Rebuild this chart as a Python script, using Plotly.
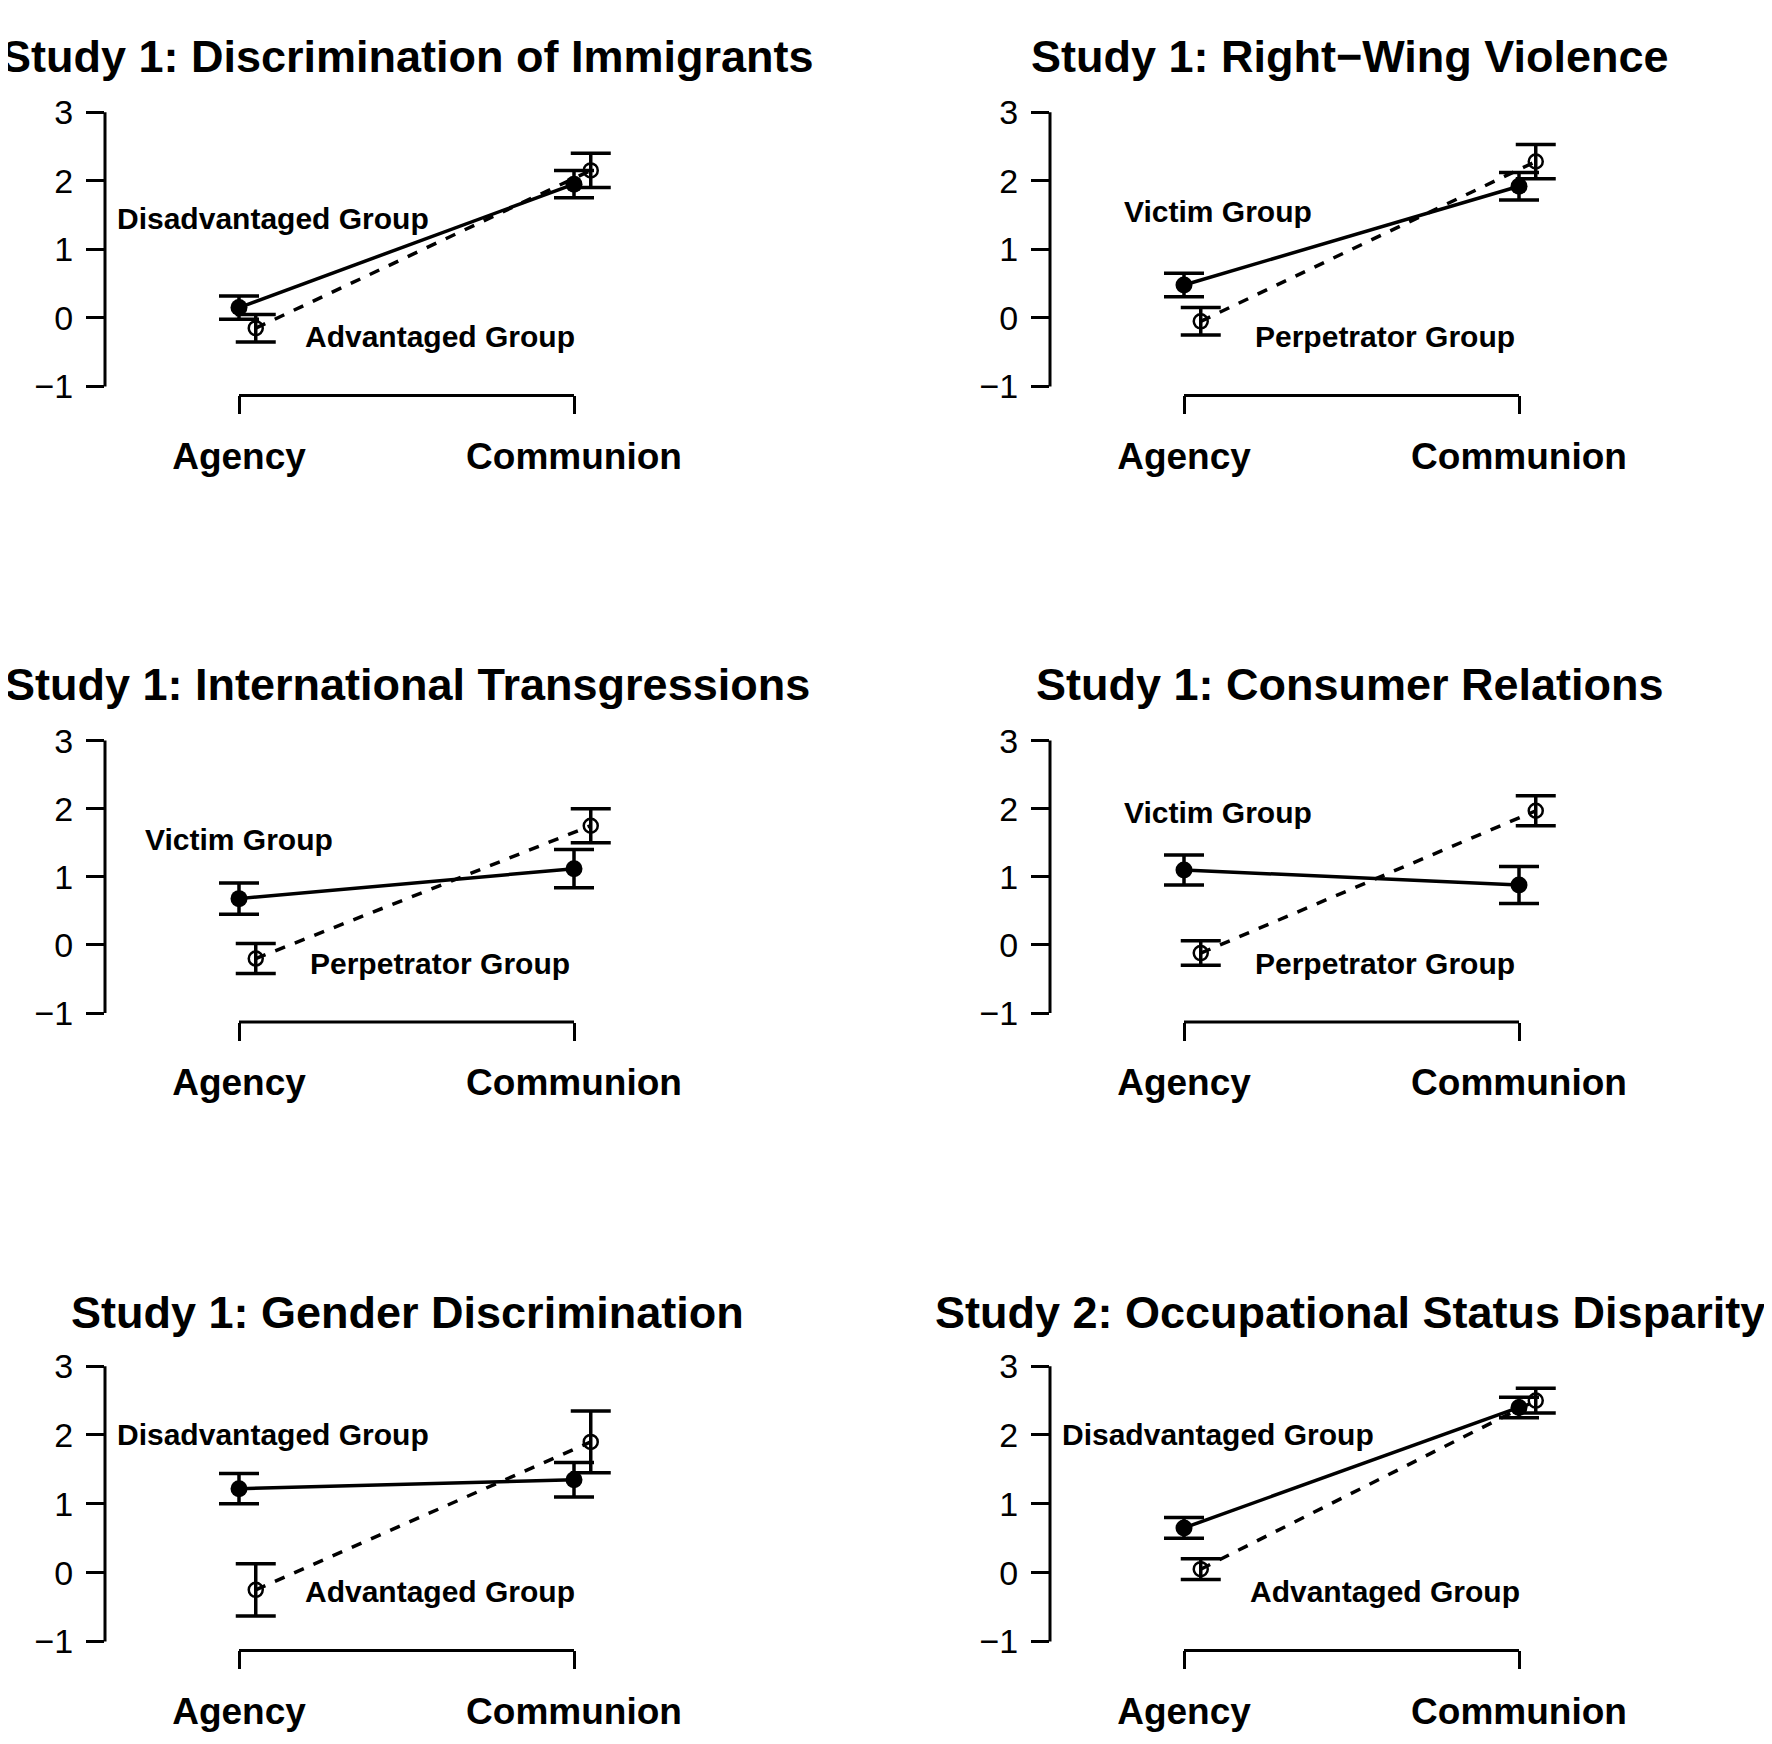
import plotly.graph_objects as go

W, H = 1772, 1744
titles = ["Study 1: Discrimination of Immigrants", "Study 1: Right\u2212Wing Violence",
          "Study 1: International Transgressions", "Study 1: Consumer Relations",
          "Study 1: Gender Discrimination", "Study 2: Occupational Status Disparity"]
categories = ["Agency", "Communion"]
label_a = ["Disadvantaged Group", "Victim Group", "Victim Group", "Victim Group", "Disadvantaged Group", "Disadvantaged Group"]
label_b = ["Advantaged Group", "Perpetrator Group", "Perpetrator Group", "Perpetrator Group", "Advantaged Group", "Advantaged Group"]
solid_vals = [[0.15, 1.95], [0.48, 1.92], [0.68, 1.12], [1.10, 0.88], [1.22, 1.35], [0.65, 2.40]]
solid_err = [[0.17, 0.20], [0.17, 0.20], [0.23, 0.28], [0.22, 0.27], [0.22, 0.25], [0.15, 0.15]]
dash_vals = [[-0.15, 2.15], [-0.05, 2.28], [-0.20, 1.75], [-0.12, 1.97], [-0.25, 1.90], [0.05, 2.50]]
dash_err = [[0.20, 0.25], [0.20, 0.25], [0.22, 0.25], [0.18, 0.22], [0.38, 0.45], [0.15, 0.18]]
label_a_pos = [(1.1, 1.45), (1.1, 1.55), (1.0, 1.55), (1.1, 1.95), (1.1, 2.0), (1.1, 2.0)]
label_b_pos = [(1.6, -0.27)] * 6
yticks = [-1, 0, 1, 2, 3]

FONT = "Liberation Sans"
col_left = [97, 1042]
row_px = [(86, 377), (724, 1013), (1359, 1651)]
title_y = [5, 643, 1280]
title_x = [399, 1342]
xr = [0.6, 2.4]
yr = [-1.13, 3.05]

fig = go.Figure()
for i in range(6):
    r, c = divmod(i, 2)
    n = i + 1
    xa = "x" if n == 1 else f"x{n}"
    ya = "y" if n == 1 else f"y{n}"
    xl = "xaxis" if n == 1 else f"xaxis{n}"
    yl = "yaxis" if n == 1 else f"yaxis{n}"
    x0 = col_left[c]
    x1 = x0 + 603
    top, bot = row_px[r]
    fig.update_layout({
        xl: dict(domain=[x0 / W, x1 / W], range=xr, anchor=ya, tickvals=[1, 2],
                 ticktext=[f"<b>{t}</b>" for t in categories],
                 ticks="outside", ticklen=18, tickwidth=3, tickcolor="black", showline=False,
                 showgrid=False, zeroline=False, tickfont=dict(size=37, family=FONT, color="black"),
                 ticklabelstandoff=10),
        yl: dict(domain=[1 - bot / H, 1 - top / H], range=yr, anchor=xa, tickvals=yticks,
                 ticktext=["\u22121", "0", "1", "2", "3"], ticks="outside", ticklen=18, tickwidth=3,
                 tickcolor="black", showline=False, showgrid=False, zeroline=False,
                 tickfont=dict(size=34, family=FONT, color="black"), ticklabelstandoff=6),
    })
    fig.add_shape(type="line", xref=f"{xa} domain", yref=ya, x0=0, x1=0, y0=-1, y1=3,
                  line=dict(color="black", width=3))
    fig.add_shape(type="line", xref=xa, yref=f"{ya} domain", x0=1, x1=2, y0=0, y1=0,
                  line=dict(color="black", width=3))
    xs = [1, 2]
    xo = [1.05, 2.05]
    fig.add_trace(go.Scatter(x=xo, y=dash_vals[i], xaxis=xa, yaxis=ya, mode="lines+markers",
                             line=dict(color="black", width=3.5, dash="dash"),
                             marker=dict(symbol="circle-open", size=14, color="black", line=dict(width=2.5)),
                             error_y=dict(type="data", array=dash_err[i], color="black", thickness=3.5, width=20),
                             showlegend=False))
    fig.add_trace(go.Scatter(x=xs, y=solid_vals[i], xaxis=xa, yaxis=ya, mode="lines+markers",
                             line=dict(color="black", width=3.5),
                             marker=dict(symbol="circle", size=17, color="black"),
                             error_y=dict(type="data", array=solid_err[i], color="black", thickness=3.5, width=20),
                             showlegend=False))
    for txt, (px, py) in ((label_a[i], label_a_pos[i]), (label_b[i], label_b_pos[i])):
        fig.add_annotation(x=px, y=py, xref=xa, yref=ya, text=f"<b>{txt}</b>", showarrow=False,
                           font=dict(size=30, family=FONT, color="black"))
    fig.add_annotation(x=title_x[c] / W, y=1 - title_y[r] / H, xref="paper", yref="paper",
                       text=f"<b>{titles[i]}</b>", showarrow=False, xanchor="center", yanchor="top",
                       font=dict(size=45, family=FONT, color="black"))

fig.update_layout(width=W, height=H, margin=dict(l=0, r=0, t=0, b=0),
                  plot_bgcolor="white", paper_bgcolor="white", showlegend=False)
fig.write_html("out.html")
